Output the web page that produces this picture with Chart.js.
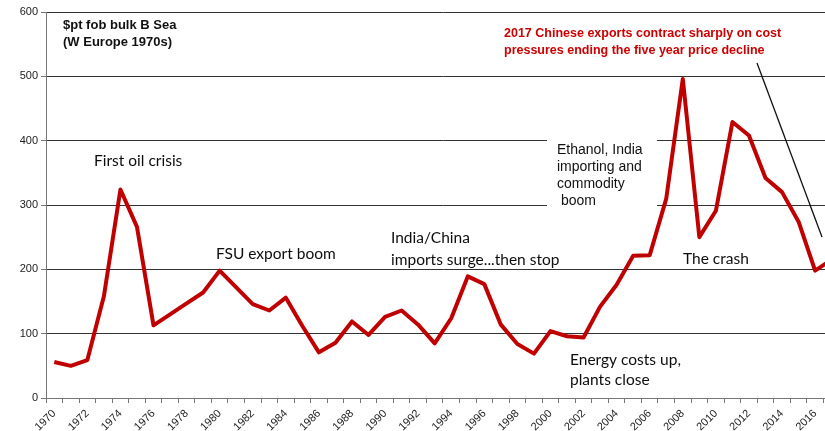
<!DOCTYPE html>
<html>
<head>
<meta charset="utf-8">
<script src="https://cdn.jsdelivr.net/npm/chart.js@4"></script>
<style>
  html, body { margin: 0; padding: 0; background: #fff; overflow: hidden; }
  #wrap { width: 845px; height: 431px; }
</style>
</head>
<body>
<div id="wrap"><canvas id="priceChart" width="845" height="431"></canvas></div>
<script>
// years on the x axis
const years = ['1970','1971','1972','1973','1974','1975','1976','1977','1978','1979',
  '1980','1981','1982','1983','1984','1985','1986','1987','1988','1989',
  '1990','1991','1992','1993','1994','1995','1996','1997','1998','1999',
  '2000','2001','2002','2003','2004','2005','2006','2007','2008','2009',
  '2010','2011','2012','2013','2014','2015','2016','2017'];

// $pt fob bulk B Sea
const prices = [56, 50, 59, 158, 324, 266, 113, 130, 147, 164,
  198, 172, 146, 136, 156, 112, 71, 86, 119, 98,
  126, 136, 114, 85, 124, 189, 177, 114, 84, 69,
  104, 96, 94, 142, 176, 221, 222, 310, 496, 250,
  291, 429, 408, 342, 320, 274, 198, 215];

const yTicks = [0, 100, 200, 300, 400, 500, 600];

// notes: text lines, position, style
const notes = [
  { lines: ['$pt fob bulk B Sea', '(W Europe 1970s)'], x: 63, y: 25, font: 'bold 13px "Liberation Sans", Arial', color: '#111', lh: 17 },
  { lines: ['2017 Chinese exports contract sharply on cost', 'pressures ending the five year price decline'], x: 504, y: 34, font: 'bold 12.5px "Liberation Sans", Arial', color: '#cc0000', lh: 17 },
  { lines: ['First oil crisis'], x: 94, y: 161, font: '15.5px Lato', color: '#0d0d0d', lh: 18 },
  { lines: ['FSU export boom'], x: 216, y: 254, font: '15.5px Lato', color: '#0d0d0d', lh: 18 },
  { lines: ['India/China', 'imports surge...then stop'], x: 391, y: 238, font: '15.5px Lato', color: '#0d0d0d', lh: 22 },
  { lines: ['Ethanol, India', 'importing and', 'commodity', ' boom'], x: 557, y: 150, font: '14px "Liberation Sans", Arial', color: '#111', lh: 17, box: true },
  { lines: ['The crash'], x: 683, y: 259, font: '15.5px Lato', color: '#0d0d0d', lh: 18 },
  { lines: ['Energy costs up,', 'plants close'], x: 570, y: 360, font: '15.5px Lato', color: '#0d0d0d', lh: 20 }
];

const notesPlugin = {
  id: 'notes',
  beforeDatasetsDraw(chart) {
    const ctx = chart.ctx;
    ctx.save();
    ctx.fillStyle = '#fff';
    notes.filter(n => n.box).forEach(n => {
      ctx.fillRect(n.x - 10, n.y - 12, 110, n.lines.length * n.lh + 4);
    });
    ctx.restore();
  },
  afterDraw(chart) {
    const ctx = chart.ctx;
    ctx.save();
    ctx.textBaseline = 'middle';
    ctx.textAlign = 'left';
    notes.forEach(n => {
      ctx.font = n.font;
      ctx.fillStyle = n.color;
      n.lines.forEach((t, i) => ctx.fillText(t, n.x, n.y + i * n.lh));
    });
    // pointer from the red note
    ctx.strokeStyle = '#111';
    ctx.lineWidth = 1.3;
    ctx.beginPath();
    ctx.moveTo(757, 63);
    ctx.lineTo(822, 237);
    ctx.stroke();
    ctx.restore();
  }
};

const ctx = document.getElementById('priceChart').getContext('2d');
const myChart = new Chart(ctx, {
  type: 'line',
  data: {
    labels: years,
    datasets: [{
      data: prices,
      borderColor: '#c00000',
      borderWidth: 4,
      borderJoinStyle: 'round',
      pointRadius: 0,
      tension: 0,
      fill: false
    }]
  },
  options: {
    responsive: false,
    animation: false,
    layout: { padding: { top: 12, right: 0, left: 0, bottom: 0 } },
    plugins: { legend: { display: false }, tooltip: { enabled: false } },
    scales: {
      x: {
        offset: true,
        afterFit: s => { s.height = 33; },
        grid: { offset: true, drawOnChartArea: false, drawTicks: true, tickLength: 5, color: '#777' },
        border: { color: '#777' },
        ticks: {
          autoSkip: false,
          minRotation: 45,
          maxRotation: 45,
          padding: 4,
          color: '#222',
          font: { family: '"Liberation Sans", Arial', size: 11 },
          callback: (v, i) => (i % 2 === 0 ? years[i] : '')
        }
      },
      y: {
        min: 0,
        max: 600,
        afterFit: s => { s.width = 46; },
        afterBuildTicks: s => { s.ticks = yTicks.map(v => ({ value: v })); },
        grid: { color: '#333', tickLength: 5, tickColor: '#777' },
        border: { color: '#777' },
        ticks: {
          padding: 3,
          color: '#222',
          font: { family: '"Liberation Sans", Arial', size: 11 }
        }
      }
    }
  },
  plugins: [notesPlugin]
});
</script>
</body>
</html>
